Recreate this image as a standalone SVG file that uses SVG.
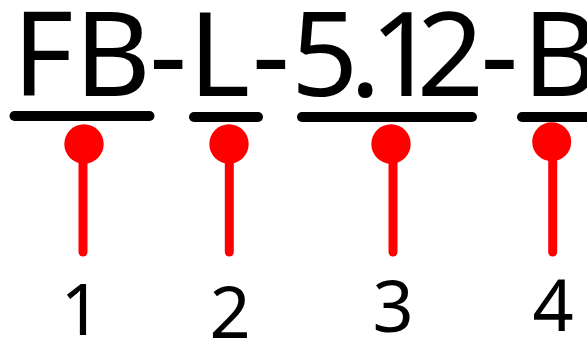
<svg xmlns="http://www.w3.org/2000/svg" width="587" height="341" viewBox="0 0 587 341">
<style>
.code{font-family:"Noto Sans","Open Sans",sans-serif;font-size:117.6px;fill:#000}
.num{font-family:"Noto Sans","Open Sans",sans-serif;font-size:72px;fill:#000;text-anchor:middle}
.ul{stroke:#000;stroke-width:10;stroke-linecap:round;fill:none}
.lead{stroke:#f00;stroke-width:9;stroke-linecap:round;fill:none}
.dot{fill:#f00}
</style>
<rect width="587" height="341" fill="#fff"/>
<g id="code"><text class="code" x="12.5 74.5 149.3 188.5 252 290.9 349.4 369.8 416.7 480.6 522.2" y="96">FB-L-5.12-B</text></g>
<g id="connectors">
<line class="ul" x1="14.5" y1="116" x2="149.5" y2="116"/>
<line class="ul" x1="194" y1="117" x2="258" y2="117"/>
<line class="ul" x1="302" y1="117" x2="472" y2="117"/>
<line class="ul" x1="522" y1="117" x2="600" y2="117"/>
<line class="lead" x1="83" y1="144" x2="83" y2="252"/>
<line class="lead" x1="229.3" y1="144" x2="229.3" y2="252"/>
<line class="lead" x1="393" y1="144" x2="393" y2="252"/>
<line class="lead" x1="552.7" y1="142" x2="552.7" y2="252"/>
</g>
<g id="node1"><circle class="dot" cx="84" cy="144" r="19.7"/><text class="num" x="81" y="335">1</text></g>
<g id="node2"><circle class="dot" cx="229" cy="144" r="19.7"/><text class="num" x="230" y="338">2</text></g>
<g id="node3"><circle class="dot" cx="391" cy="144" r="19.7"/><text class="num" x="393" y="331.5">3</text></g>
<g id="node4"><circle class="dot" cx="551.7" cy="141.7" r="19.5"/><text class="num" x="553" y="330.7">4</text></g>
</svg>
